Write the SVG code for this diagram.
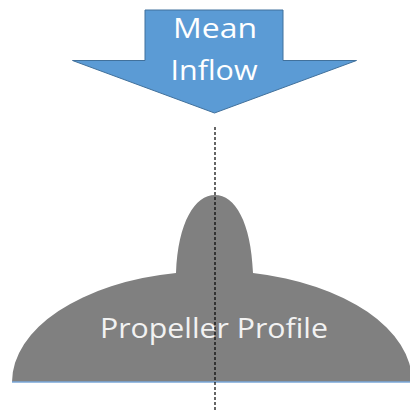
<svg xmlns="http://www.w3.org/2000/svg" width="410" height="416" viewBox="0 0 410 416">
  <style>
    .lbl { font-family: "Open Sans", "Noto Sans", "Liberation Sans", sans-serif; font-size: 28px; fill: #ffffff; }
    .prof-lbl { fill: #f2f2f2; }
    .inflow { fill: #5b9bd5; stroke: #41719c; stroke-width: 1; }
    .body { fill: #808080; }
    .base { stroke: #7aa7d8; stroke-width: 1.5; fill: none; }
    .axis { stroke: #000000; stroke-width: 1.2; stroke-dasharray: 3 2; fill: none; }
  </style>
  <rect width="410" height="416" fill="#ffffff"/>

  <!-- Downward block arrow for the inflow -->
  <g id="mean-inflow">
    <path class="inflow" d="M145,10 L283,10 L283,60.5 L356.5,60.5 L214.5,113 L72.5,60.5 L145,60.5 Z"/>
    <text class="lbl" x="215" y="38" text-anchor="middle" textLength="84" lengthAdjust="spacingAndGlyphs">Mean</text>
    <text class="lbl" x="214" y="80" text-anchor="middle" textLength="87" lengthAdjust="spacingAndGlyphs">Inflow</text>
  </g>

  <!-- Propeller silhouette: blade body with central hub -->
  <g id="propeller-profile">
    <path class="body" d="M12,382 A200,111 0 0 1 176,273 C178,222 195,195 215,195 C235,195 251,222 253,273 A200,111 0 0 1 412,382 Z"/>
    <line class="base" x1="12" y1="382" x2="410" y2="382"/>
    <text class="lbl prof-lbl" x="214" y="338" text-anchor="middle" textLength="228" lengthAdjust="spacingAndGlyphs">Propeller Profile</text>
  </g>

  <!-- Axis of rotation -->
  <g id="connectors">
    <line class="axis" x1="215" y1="127" x2="215" y2="411"/>
  </g>
</svg>
